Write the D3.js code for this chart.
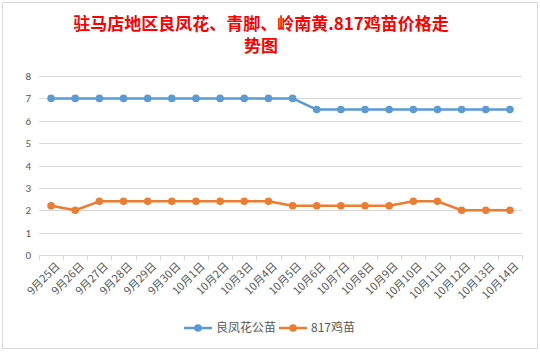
<!DOCTYPE html>
<html>
<head>
<meta charset="utf-8">
<script src="https://cdn.jsdelivr.net/npm/d3@7"></script>
<style>
  body { margin: 0; background: #fff; }
  text { font-family: "Noto Sans CJK SC", "Microsoft YaHei", sans-serif; }
</style>
</head>
<body>
<figure id="priceChart" style="margin:0"></figure>
<script>
// categories and series
var dates = ["9月25日","9月26日","9月27日","9月28日","9月29日","9月30日","10月1日","10月2日","10月3日","10月4日",
             "10月5日","10月6日","10月7日","10月8日","10月9日","10月10日","10月11日","10月12日","10月13日","10月14日"];
var liangfeng = [7,7,7,7,7,7,7,7,7,7,7,6.5,6.5,6.5,6.5,6.5,6.5,6.5,6.5,6.5];
var chick817 = [2.2,2.0,2.4,2.4,2.4,2.4,2.4,2.4,2.4,2.4,2.2,2.2,2.2,2.2,2.2,2.4,2.4,2.0,2.0,2.0];
var yTicks = [0,1,2,3,4,5,6,7,8];
var seriesNames = ["良凤花公苗", "817鸡苗"];
var colors = ["#5b9bd5", "#ed7d31"];

var W = 540, H = 352;
var margin = {top: 76, left: 39},
  width = 522 - margin.left,
  height = 255 - margin.top;

var svg = d3.select("figure#priceChart")
  .append("svg")
  .attr("width", W)
  .attr("height", H);

// chart border
svg.append("rect")
  .attr("x", 2.5).attr("y", 2.5)
  .attr("width", 535).attr("height", 346)
  .attr("fill", "#fff")
  .attr("stroke", "#d9d9d9");

// title, two lines
var title = svg.append("text")
  .attr("text-anchor", "middle")
  .attr("fill", "#ff0000")
  .style("font-size", "17px")
  .style("font-weight", "bold");
title.append("tspan").attr("x", 261).attr("y", 30).text("驻马店地区良凤花、青脚、岭南黄.817鸡苗价格走");
title.append("tspan").attr("x", 261).attr("y", 52).text("势图");

var g = svg.append("g")
  .attr("transform", "translate(" + margin.left + "," + margin.top + ")");

var x = d3.scaleBand()
  .domain(dates)
  .range([0, width]);

var y = d3.scaleLinear()
  .domain([0, 8])
  .range([height, 0]);

// gridlines
g.append("g")
  .selectAll("line")
  .data(yTicks.slice(1))
  .enter().append("line")
  .attr("x1", 0).attr("x2", width)
  .attr("y1", function(d) { return Math.round(y(d)) + 0.5; })
  .attr("y2", function(d) { return Math.round(y(d)) + 0.5; })
  .attr("stroke", "#d9d9d9");

// y axis labels
g.append("g")
  .call(d3.axisLeft(y).tickValues(yTicks).tickSize(0).tickPadding(8))
  .call(function(s) { s.select(".domain").remove(); })
  .selectAll("text")
  .attr("fill", "#595959")
  .style("font-size", "11px")
  .style("font-family", "Calibri, Carlito, 'Liberation Sans', sans-serif");

// x axis
var xAxis = g.append("g")
  .attr("transform", "translate(0," + (Math.round(height) + 0.5) + ")");
xAxis.append("line")
  .attr("x1", 0).attr("x2", width)
  .attr("stroke", "#d9d9d9");
xAxis.selectAll("line.tick")
  .data(dates.concat(["end"]))
  .enter().append("line")
  .attr("class", "tick")
  .attr("x1", function(d, i) { return Math.round(i * x.bandwidth()) + 0.5; })
  .attr("x2", function(d, i) { return Math.round(i * x.bandwidth()) + 0.5; })
  .attr("y1", 0).attr("y2", 5)
  .attr("stroke", "#d9d9d9");
xAxis.selectAll("text")
  .data(dates)
  .enter().append("text")
  .attr("transform", function(d) {
    return "translate(" + (x(d) + x.bandwidth() / 2 + 4) + ",6) rotate(-45)";
  })
  .attr("text-anchor", "end")
  .attr("dy", "0.7em")
  .attr("fill", "#595959")
  .style("font-size", "11px")
  .text(function(d) { return d; });

// lines and markers
var series = [liangfeng, chick817];
var line = d3.line()
  .x(function(d, i) { return x(dates[i]) + x.bandwidth() / 2; })
  .y(function(d) { return y(d); });

series.forEach(function(vals, k) {
  g.append("path")
    .datum(vals)
    .attr("fill", "none")
    .attr("stroke", colors[k])
    .attr("stroke-width", 2.5)
    .attr("stroke-linejoin", "round")
    .attr("d", line);
  g.append("g")
    .selectAll("circle")
    .data(vals)
    .enter().append("circle")
    .attr("r", 3.8)
    .attr("cx", function(d, i) { return x(dates[i]) + x.bandwidth() / 2; })
    .attr("cy", function(d) { return y(d); })
    .attr("fill", colors[k]);
});

// legend
var legendX = [184, 279];
var legend = svg.append("g")
  .selectAll("g")
  .data(seriesNames)
  .enter().append("g")
  .attr("transform", function(d, i) { return "translate(" + legendX[i] + ",328)"; });
legend.append("line")
  .attr("x1", 0).attr("x2", 28)
  .attr("stroke", function(d, i) { return colors[i]; })
  .attr("stroke-width", 2.5);
legend.append("circle")
  .attr("cx", 14).attr("r", 3.8)
  .attr("fill", function(d, i) { return colors[i]; });
legend.append("text")
  .attr("x", 32).attr("dy", "0.35em")
  .attr("fill", "#595959")
  .style("font-size", "12px")
  .text(function(d) { return d; });
</script>
</body>
</html>
